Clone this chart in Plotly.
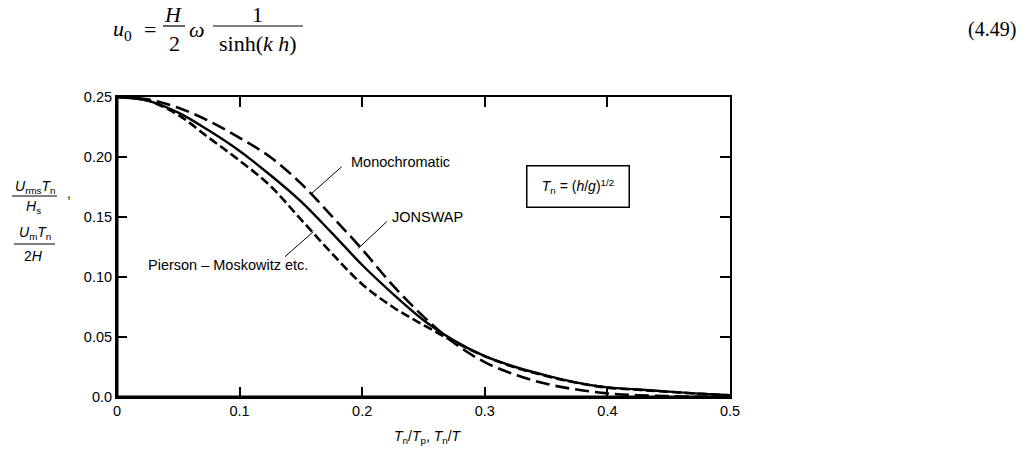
import plotly.graph_objects as go

# ---- data ----
x_vals = [0.0, 0.025, 0.05, 0.075, 0.1, 0.125, 0.15, 0.175, 0.2, 0.225, 0.25,
          0.275, 0.3, 0.325, 0.35, 0.375, 0.4, 0.425, 0.45, 0.475, 0.5]
mono_vals = [0.250, 0.248, 0.241, 0.230, 0.216, 0.200, 0.178, 0.151, 0.123, 0.093, 0.067,
             0.045, 0.029, 0.0185, 0.011, 0.0062, 0.003, 0.0015, 0.0007, 0.0003, 0.0001]
jonswap_vals = [0.250, 0.247, 0.237, 0.222, 0.205, 0.185, 0.163, 0.137, 0.110, 0.086, 0.064,
                0.047, 0.034, 0.025, 0.018, 0.012, 0.008, 0.0063, 0.0045, 0.0028, 0.0015]
pm_vals = [0.250, 0.247, 0.235, 0.216, 0.197, 0.176, 0.148, 0.120, 0.094, 0.075, 0.060,
           0.046, 0.034, 0.0245, 0.0175, 0.0118, 0.0078, 0.006, 0.0043, 0.0027, 0.0014]

x_ticks = [0, 0.1, 0.2, 0.3, 0.4, 0.5]
x_ticktext = ["0", "0.1", "0.2", "0.3", "0.4", "0.5"]
y_ticks = [0, 0.05, 0.10, 0.15, 0.20, 0.25]
y_ticktext = ["0.0", "0.05", "0.10", "0.15", "0.20", "0.25"]

SANS = "Liberation Sans, Arial, sans-serif"
SERIF = "Liberation Serif, Times New Roman, serif"

fig = go.Figure()
fig.add_trace(go.Scatter(x=x_vals, y=mono_vals, mode="lines", name="Monochromatic",
                         line=dict(color="black", width=2.6, dash="14px,6px", shape="spline")))
fig.add_trace(go.Scatter(x=x_vals, y=jonswap_vals, mode="lines", name="JONSWAP",
                         line=dict(color="black", width=2.4, shape="spline")))
fig.add_trace(go.Scatter(x=x_vals, y=pm_vals, mode="lines", name="Pierson – Moskowitz etc.",
                         line=dict(color="black", width=2.6, dash="9px,4px", shape="spline")))

axis_common = dict(showline=True, linecolor="black", linewidth=2, mirror="ticks",
                   ticks="inside", ticklen=10, tickwidth=1.5, tickcolor="black",
                   showgrid=False, zeroline=False,
                   tickfont=dict(family=SANS, size=14.5, color="black"))
fig.update_xaxes(range=[0, 0.5], tickvals=x_ticks, ticktext=x_ticktext, **axis_common)
fig.update_yaxes(range=[0, 0.25], tickvals=y_ticks, ticktext=y_ticktext, **axis_common)


def px(xp):
    return (xp - 117) / 613


def py(yp):
    return (397 - yp) / 300


def txt(xp, yp, text, font, xanchor="center"):
    return dict(x=px(xp), y=py(yp), xref="paper", yref="paper", text=text,
                xanchor=xanchor, yanchor="middle", showarrow=False, font=font)


lab_font = dict(family=SANS, size=14.5, color="black")
small_font = dict(family=SANS, size=14, color="black")
eq_font = dict(family=SERIF, size=22, color="black")

ann = []
# curve labels
ann.append(txt(349, 162, "Monochromatic", lab_font, "left"))
ann.append(txt(390, 217, "JONSWAP", lab_font, "left"))
ann.append(txt(228, 265, "Pierson – Moskowitz etc.", lab_font))
# boxed definition
ann.append(dict(x=px(577.5), y=py(186), xref="paper", yref="paper",
                xanchor="center", yanchor="middle",
                text="<i>T</i><sub>n</sub> = (<i>h</i>/<i>g</i>)<sup>1/2</sup>",
                showarrow=False, bordercolor="black", borderwidth=1.5, borderpad=3,
                width=95, height=34, bgcolor="white", font=small_font))
# x-axis title
ann.append(txt(428, 437,
               "<i>T</i><sub>n</sub>/<i>T</i><sub>p</sub>, <i>T</i><sub>n</sub>/<i>T</i>",
               small_font))
# y-axis title (two stacked fractions)
ann.append(txt(34.5, 187, "<i>U</i><sub>rms</sub><i>T</i><sub>n</sub>", small_font))
ann.append(txt(33.5, 207, "<i>H</i><sub>s</sub>", small_font))
ann.append(txt(69, 193, ",", small_font))
ann.append(txt(35, 233, "<i>U</i><sub>m</sub><i>T</i><sub>n</sub>", small_font))
ann.append(txt(33, 256, "2<i>H</i>", small_font))
# equation at the top
ann.append(txt(111, 30, "<i>u</i><sub>0</sub>", eq_font, "left"))
ann.append(txt(149.5, 30, "=", eq_font))
ann.append(txt(173, 14, "<i>H</i>", eq_font))
ann.append(txt(174, 43, "2", eq_font))
ann.append(txt(196.5, 29, "<i>ω</i>", eq_font))
ann.append(txt(257, 14, "1", eq_font))
ann.append(txt(258, 43, "sinh(<i>k h</i>)", eq_font))
ann.append(txt(1018, 29, "(4.49)", dict(family=SERIF, size=20, color="black"), "right"))

shapes = []
# pointer lines
for (x0, y0, x1, y1) in [(341.7, 166.7, 311.7, 193.3),
                         (386.7, 221.7, 358.3, 248.3),
                         (313.3, 231.7, 285.0, 256.7)]:
    shapes.append(dict(type="line", xref="x", yref="y",
                       x0=(x0 - 117) / 1226, y0=(397 - y0) / 1200,
                       x1=(x1 - 117) / 1226, y1=(397 - y1) / 1200,
                       line=dict(color="black", width=1)))
# fraction bars
for (xa, xb, yb) in [(12, 57, 196), (14, 55, 244), (163, 185, 26), (213, 303, 26)]:
    shapes.append(dict(type="line", xref="paper", yref="paper",
                       x0=px(xa), x1=px(xb), y0=py(yb), y1=py(yb),
                       line=dict(color="black", width=1.2)))
# heavier left and bottom axis lines
shapes.append(dict(type="line", xref="paper", yref="paper", x0=0, x1=0, y0=0, y1=1,
                   line=dict(color="black", width=3)))
shapes.append(dict(type="line", xref="paper", yref="paper", x0=0, x1=1, y0=0, y1=0,
                   line=dict(color="black", width=3)))

# page body has an 8px margin: shrink figure so the plot area lands where the reference's is
fig.update_layout(width=1021, height=444, margin=dict(l=109, r=299, t=89, b=55),
                  paper_bgcolor="white", plot_bgcolor="white", showlegend=False,
                  annotations=ann, shapes=shapes, hovermode=False)

fig.write_html("out.html")
